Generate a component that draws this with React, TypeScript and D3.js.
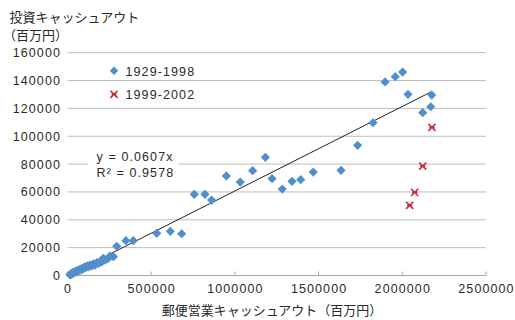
import { useEffect, useRef } from "react";
import * as d3 from "d3";

// 1929-1998: [郵便営業キャッシュアウト, 投資キャッシュアウト] (百万円)
const series1929 = [
  [15000, 500], [18000, 900], [20000, 1200], [22000, 800], [25000, 1400],
  [28000, 1600], [30000, 1300], [33000, 2000], [36000, 1800], [40000, 2400],
  [44000, 2200], [48000, 3000], [52000, 2600], [56000, 3400], [60000, 3100],
  [65000, 3900], [70000, 3600], [75000, 4500], [80000, 4000], [86000, 5100],
  [92000, 4600], [98000, 5600], [105000, 6300], [112000, 5800], [120000, 7000],
  [128000, 6400], [136000, 7600], [145000, 6900], [155000, 8300], [165000, 7500],
  [175000, 9200], [185000, 8600], [195000, 10100], [205000, 9800], [214000, 12300],
  [225000, 11000], [244000, 12300], [254000, 14000], [274000, 13500], [294000, 21000],
  [349000, 25000], [393000, 25000], [533000, 30300], [614000, 31700], [682000, 30000],
  [757000, 58300], [821000, 58300], [861000, 54200], [949000, 71500], [1032000, 67100],
  [1106000, 75300], [1182000, 84900], [1222000, 69500], [1283000, 62100], [1341000, 67600],
  [1393000, 68800], [1468000, 74300], [1634000, 75500], [1733000, 93500], [1825000, 109700],
  [1897000, 139000], [1958000, 142800], [2002000, 146100], [2034000, 130100], [2122000, 116900],
  [2170000, 121200], [2176000, 129600],
];

// 1999-2002
const series1999 = [
  [2177000, 106400], [2122000, 78600], [2074000, 59700], [2044000, 50400],
];

const xTicks = [0, 500000, 1000000, 1500000, 2000000, 2500000];
const yTicks = [0, 20000, 40000, 60000, 80000, 100000, 120000, 140000, 160000];
const legendLabels = ["1929-1998", "1999-2002"];
const slope = 0.0607;
const rSquared = "0.9578";

const blue = "#4f8fcc";
const red = "#c4303a";
const numFont = "'Liberation Sans', Arial, sans-serif";
const jpFont = "'Noto Sans CJK JP', sans-serif";

const App = () => {
  const canvas = useRef(null);

  useEffect(() => {
    const svg = d3.select(canvas.current);
    svg.selectAll("*").remove();

    const x = d3.scaleLinear().domain([0, 2500000]).range([67.5, 486]);
    const y = d3.scaleLinear().domain([0, 160000]).range([275.5, 52.7]);

    // gridlines
    svg
      .append("g")
      .selectAll("line")
      .data(yTicks)
      .join("line")
      .attr("x1", x(0))
      .attr("x2", x(2500000))
      .attr("y1", (d) => y(d))
      .attr("y2", (d) => y(d))
      .attr("stroke", (d) => (d === 0 ? "#a8a8a8" : "#bdbdbd"))
      .attr("stroke-width", 1);

    // x tick marks (pointing up)
    svg
      .append("g")
      .selectAll("line")
      .data(xTicks)
      .join("line")
      .attr("x1", (d) => x(d))
      .attr("x2", (d) => x(d))
      .attr("y1", y(0))
      .attr("y2", y(0) - 4)
      .attr("stroke", "#a8a8a8");

    // y tick labels
    svg
      .append("g")
      .attr("font-family", numFont)
      .attr("font-size", 12.5)
      .attr("letter-spacing", 1.1)
      .attr("fill", "#2a2a2a")
      .attr("text-anchor", "end")
      .selectAll("text")
      .data(yTicks)
      .join("text")
      .attr("x", 61)
      .attr("y", (d) => y(d) + 4.5)
      .text((d) => d);

    // x tick labels
    svg
      .append("g")
      .attr("font-family", numFont)
      .attr("font-size", 12.5)
      .attr("letter-spacing", 1.1)
      .attr("fill", "#2a2a2a")
      .attr("text-anchor", "middle")
      .selectAll("text")
      .data(xTicks)
      .join("text")
      .attr("x", (d) => x(d) + 0.5)
      .attr("y", 293)
      .text((d) => d);

    // trend line
    const xs = series1929.map((d) => d[0]);
    const x0 = d3.min(xs);
    const x1 = d3.max(xs);
    svg
      .append("line")
      .attr("x1", x(x0))
      .attr("y1", y(slope * x0))
      .attr("x2", x(x1))
      .attr("y2", y(slope * x1))
      .attr("stroke", "#222")
      .attr("stroke-width", 1);

    // 1929-1998 diamonds
    const diamond = "M0,-4.6L4.6,0L0,4.6L-4.6,0Z";
    svg
      .append("g")
      .attr("fill", blue)
      .selectAll("path")
      .data(series1929)
      .join("path")
      .attr("d", diamond)
      .attr("transform", (d) => `translate(${x(d[0])},${y(d[1])})`);

    // 1999-2002 star markers (x with a bar)
    const star = "M-3.6,-3.6L3.6,3.6M-3.6,3.6L3.6,-3.6M-2.6,0L2.6,0";
    svg
      .append("g")
      .attr("stroke", red)
      .attr("stroke-width", 1.6)
      .attr("fill", "none")
      .selectAll("path")
      .data(series1999)
      .join("path")
      .attr("d", star)
      .attr("transform", (d) => `translate(${x(d[0])},${y(d[1])})`);

    // equation label
    svg
      .append("rect")
      .attr("x", 88)
      .attr("y", 147)
      .attr("width", 90)
      .attr("height", 34)
      .attr("fill", "white");
    const eq = svg
      .append("g")
      .attr("font-family", numFont)
      .attr("font-size", 12.5)
      .attr("letter-spacing", 1.1)
      .attr("fill", "#2a2a2a");
    eq.append("text").attr("x", 96.5).attr("y", 161).text(`y = ${slope}x`);
    eq.append("text").attr("x", 96.5).attr("y", 177.3).text(`R² = ${rSquared}`);

    // legend
    const legend = svg.append("g");
    legend
      .append("path")
      .attr("d", "M0,-4.2L4.2,0L0,4.2L-4.2,0Z")
      .attr("fill", blue)
      .attr("transform", "translate(114,70.7)");
    legend
      .append("path")
      .attr("d", star)
      .attr("stroke", red)
      .attr("stroke-width", 1.6)
      .attr("transform", "translate(114,94.3)");
    legend
      .append("g")
      .attr("font-family", numFont)
      .attr("font-size", 12.5)
      .attr("letter-spacing", 1.1)
      .attr("fill", "#2a2a2a")
      .selectAll("text")
      .data(legendLabels)
      .join("text")
      .attr("x", 125.5)
      .attr("y", (d, i) => 75.8 + i * 23.6)
      .text((d) => d);

    // axis titles
    const titles = svg
      .append("g")
      .attr("font-family", jpFont)
      .attr("font-size", 13)
      .attr("fill", "#2a2a2a");
    titles.append("text").attr("x", 9.5).attr("y", 22).text("投資キャッシュアウト");
    titles.append("text").attr("x", 3).attr("y", 40).text("（百万円）");
    titles
      .append("text")
      .attr("x", 272)
      .attr("y", 315)
      .attr("text-anchor", "middle")
      .text("郵便営業キャッシュアウト（百万円）");
  }, []);

  return (
    <svg
      ref={canvas}
      width={515}
      height={320}
      style={{ position: "absolute", left: 0, top: 0, background: "white" }}
    />
  );
};

export default App;
